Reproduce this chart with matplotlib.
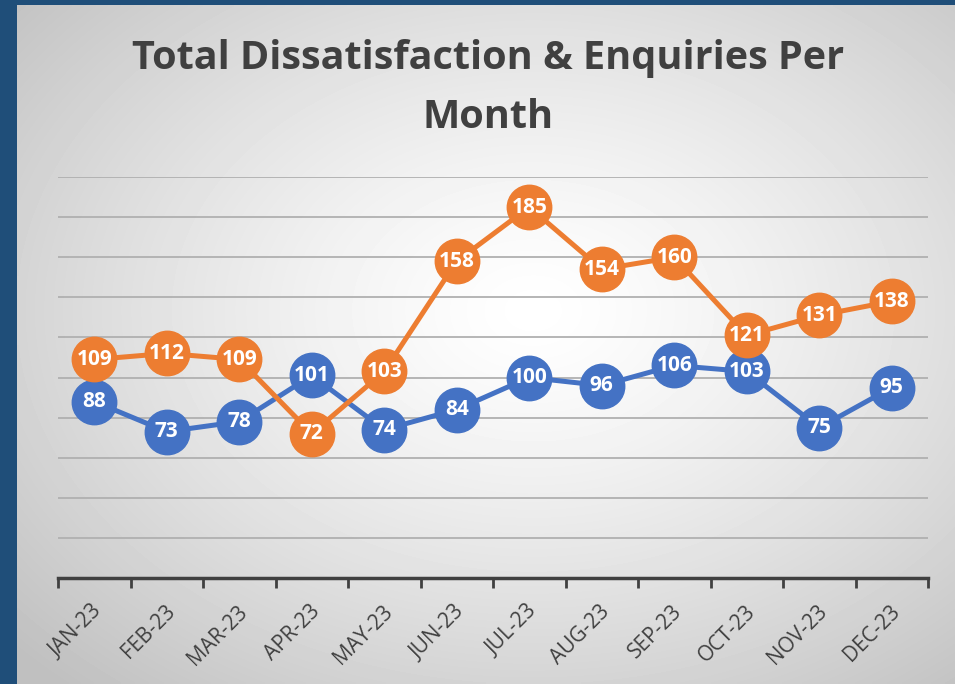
import numpy as np
import matplotlib
matplotlib.use("Agg")
import matplotlib.pyplot as plt
import matplotlib.transforms as mtransforms

months = ["JAN-23", "FEB-23", "MAR-23", "APR-23", "MAY-23", "JUN-23",
          "JUL-23", "AUG-23", "SEP-23", "OCT-23", "NOV-23", "DEC-23"]
dissatisfaction = [88, 73, 78, 101, 74, 84, 100, 96, 106, 103, 75, 95]
enquiries = [109, 112, 109, 72, 103, 158, 185, 154, 160, 121, 131, 138]

BLUE = "#4472C4"
ORANGE = "#ED7D31"
TEXT = "#404040"

W, H = 955, 684
fig = plt.figure(figsize=(W / 100, H / 100), dpi=100, facecolor="#1F4E79")

# ── radial gradient background (chart area) ──────────────────────────
x0, y0 = 17, 5
bg = fig.add_axes([x0 / W, 0, 1 - x0 / W, 1 - y0 / H])
bg.set_axis_off()
gx, gy = np.meshgrid(np.linspace(0, 1, 300), np.linspace(0, 1, 220))
r = np.sqrt(((gx - 0.55) / 0.75) ** 2 + ((gy - 0.45) / 0.75) ** 2)
shade = np.clip(1 - 0.25 * np.clip(r, 0, 1) ** 1.3, 0, 1)
bg.imshow(shade, cmap="gray", vmin=0, vmax=1, aspect="auto",
          extent=[0, 1, 0, 1], interpolation="bilinear")

# ── main axes ────────────────────────────────────────────────────────
ax = fig.add_axes([58 / W, 1 - 578 / H, (928 - 58) / W, (578 - 177) / H])
ax.patch.set_alpha(0)
x = np.arange(len(months))

ax.plot(x, dissatisfaction, color=BLUE, lw=3.6, marker="o", ms=32,
        mec=BLUE, mfc=BLUE, zorder=3)
ax.plot(x, enquiries, color=ORANGE, lw=3.6, marker="o", ms=32,
        mec=ORANGE, mfc=ORANGE, zorder=4)

for xi, v in zip(x, dissatisfaction):
    ax.text(xi, v, str(v), color="white", fontsize=15, fontweight="bold",
            ha="center", va="center", family="Open Sans", zorder=5)
for xi, v in zip(x, enquiries):
    ax.text(xi, v, str(v), color="white", fontsize=15, fontweight="bold",
            ha="center", va="center", family="Open Sans", zorder=6)

ax.set_xlim(-0.5, len(months) - 0.5)
ax.set_ylim(0, 200)
ax.set_yticks(np.arange(20, 201, 20))
ax.yaxis.grid(True, color="#b0b0b0", lw=1.3)
ax.set_axisbelow(True)
ax.tick_params(axis="y", left=False, labelleft=False)

for s in ["top", "right", "left"]:
    ax.spines[s].set_visible(False)
ax.spines["bottom"].set_color(TEXT)
ax.spines["bottom"].set_linewidth(2.5)

ax.set_xticks(x)
ax.set_xticklabels(months, rotation=45, ha="right", va="center",
                   rotation_mode="anchor", fontsize=15, color=TEXT,
                   family="Open Sans")
ax.tick_params(axis="x", which="major", length=0, pad=22)
shift = mtransforms.ScaledTranslation(5 / 100, 0, fig.dpi_scale_trans)
for lab in ax.get_xticklabels():
    lab.set_transform(lab.get_transform() + shift)
ax.set_xticks(np.arange(-0.5, len(months), 1), minor=True)
ax.tick_params(axis="x", which="minor", length=7, width=2, color=TEXT,
               direction="out")

fig.text(488 / W, 1 - 88 / H, "Total Dissatisfaction & Enquiries Per\nMonth",
         ha="center", va="center", fontsize=28.5, fontweight="bold",
         color=TEXT, family="Open Sans", linespacing=1.65)

fig.savefig("out.png", dpi=100, facecolor=fig.get_facecolor())
